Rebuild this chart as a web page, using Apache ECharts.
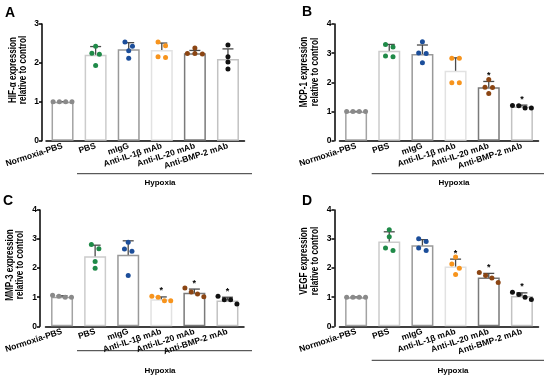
<!DOCTYPE html>
<html><head><meta charset="utf-8">
<script src="https://cdn.jsdelivr.net/npm/echarts@6/dist/echarts.min.js"></script>
<style>html,body{margin:0;padding:0;background:#fff}#c{width:550px;height:377px}</style>
</head><body><div id="c"></div>
<script>
const categories = ['Normoxia-PBS','PBS','mIgG','Anti-IL-1β mAb','Anti-IL-20 mAb','Anti-BMP-2 mAb'];

// Panel A: HIF-α
const hifPoints = [[1,1,1,1],[2.43,2.25,2.22,1.93],[2.54,2.43,2.31,2.12],[2.54,2.44,2.16,2.14],[2.38,2.24,2.23,2.24],[2.46,2.16,2.02,1.84]];
const hifMean = [1.0,2.21,2.35,2.33,2.25,2.1];
const hifSD = [0,0.21,0.17,0.18,0.07,0.26];
const hifSig = [0,0,0,0,0,0];

// Panel B: MCP-1
const mcpPoints = [[1,1,1,1],[3.30,3.21,2.90,2.88],[3.39,3.01,2.99,2.67],[2.83,2.83,1.99,1.99],[2.10,1.83,1.82,1.62],[1.20,1.21,1.12,1.12]];
const mcpMean = [1.0,3.08,2.97,2.4,1.83,1.17];
const mcpSD = [0,0.22,0.31,0.44,0.2,0.05];
const mcpSig = [0,0,0,0,1,1];

// Panel C: MMP-3
const mmpPoints = [[1.0,1.0,1.03,1.07],[2.81,2.67,2.23,2.0],[2.89,2.66,2.58,1.75],[1.03,1.0,0.88,0.88],[1.32,1.18,1.11,1.02],[1.03,0.91,0.91,0.77]];
const mmpMean = [1.02,2.41,2.46,0.93,1.15,0.89];
const mmpSD = [0.03,0.38,0.48,0.08,0.13,0.11];
const mmpSig = [0,0,0,1,1,1];

// Panel D: VEGF
const vegfPoints = [[1,1,1,1],[3.32,3.08,2.69,2.61],[3.01,2.92,2.69,2.61],[2.38,2.14,2.0,1.78],[1.85,1.75,1.66,1.51],[1.17,1.09,1.0,0.92]];
const vegfMean = [1.0,2.92,2.79,2.06,1.68,1.04];
const vegfSD = [0,0.33,0.19,0.25,0.14,0.11];
const vegfSig = [0,0,0,1,1,1];

const yMaxes = [3,4,4,4];
const yTitles = ['HIF-α expression','MCP-1 expression','MMP-3 expression','VEGF expression'];
const panelLetters = ['A','B','C','D'];

const borderColors = ['#a3a3a3','#cccccc','#999999','#e2e2e2','#7a7a7a','#c2c2c2'];
const dotColors = ['#8a8a8a','#1f8a48','#1c4e9a','#f7941d','#8b4513','#111111'];
const FONT = '"Liberation Sans", Arial, sans-serif';

const panels = [
  {pts:hifPoints, mean:hifMean, sd:hifSD, sig:hifSig},
  {pts:mcpPoints, mean:mcpMean, sd:mcpSD, sig:mcpSig},
  {pts:mmpPoints, mean:mmpMean, sd:mmpSD, sig:mmpSig},
  {pts:vegfPoints, mean:vegfMean, sd:vegfSD, sig:vegfSig}
];
const layout = [
  {left:46, top:24, width:198.5, height:116.7, off:4, tx:18, ty:70, lx:5, ly:6, hy:173.7, hx1:77, hx2:252, hty:183, htx:160},
  {left:339.5, top:24, width:199, height:116.7, off:5, tx:309.5, ty:72, lx:302, ly:5, hy:173.7, hx1:371.7, hx2:544, hty:183, htx:454},
  {left:45.5, top:210, width:198.5, height:116.3, off:5.5, tx:15, ty:265, lx:3, ly:194, hy:350.7, hx1:77, hx2:252, hty:370.7, htx:160},
  {left:339.5, top:210, width:199, height:116.3, off:5, tx:309.5, ty:261, lx:302, ly:194, hy:360.3, hx1:371.7, hx2:544, hty:370.3, htx:453}
];

const grids=[], xAxes=[], yAxes=[], series=[], graphics=[];
panels.forEach((p,i)=>{
  const L = layout[i];
  grids.push({left:L.left, top:L.top, width:L.width, height:L.height});
  xAxes.push({type:'category', gridIndex:i, data:categories,
    axisLine:{lineStyle:{color:'#000', width:1.5}},
    axisTick:{alignWithLabel:true, length:4, lineStyle:{color:'#000', width:1.5}},
    axisLabel:{rotate:18, fontSize:8.5, fontWeight:'bold', color:'#000', fontFamily:FONT, margin:5, interval:0}
  });
  yAxes.push({type:'value', gridIndex:i, min:0, max:yMaxes[i], interval:1, offset:L.off,
    axisLine:{show:true, lineStyle:{color:'#000', width:1.5}},
    axisTick:{show:true, length:3, lineStyle:{color:'#000', width:1.5}},
    splitLine:{show:false},
    axisLabel:{fontSize:8.5, fontWeight:'bold', color:'#000', fontFamily:FONT, margin:3}
  });
  series.push({type:'bar', xAxisIndex:i, yAxisIndex:i, barWidth:22, silent:true,
    data:p.mean.map((v,k)=>({value:v, itemStyle:{color:'#fff', borderColor:borderColors[k], borderWidth:1.5}}))
  });
  series.push({type:'custom', xAxisIndex:i, yAxisIndex:i, silent:true,
    data:p.mean.map((v,k)=>[k, v-p.sd[k], v+p.sd[k], p.sig[k]]),
    renderItem:(params, api)=>{
      const lo = api.coord([api.value(0), api.value(1)]);
      const hi = api.coord([api.value(0), api.value(2)]);
      const x = lo[0], cw = 5.5;
      const st = {stroke:'#4a4a4a', lineWidth:1.3};
      const ch = [
        {type:'line', shape:{x1:x, y1:lo[1], x2:x, y2:hi[1]}, style:st},
        {type:'line', shape:{x1:x-cw, y1:lo[1], x2:x+cw, y2:lo[1]}, style:st},
        {type:'line', shape:{x1:x-cw, y1:hi[1], x2:x+cw, y2:hi[1]}, style:st}
      ];
      if (api.value(3)) ch.push({type:'text', style:{x:x, y:hi[1]-6, text:'*', fill:'#000', font:'bold 9px '+FONT, align:'center', verticalAlign:'middle'}});
      return {type:'group', children:ch};
    }
  });
  series.push({type:'custom', xAxisIndex:i, yAxisIndex:i, silent:true, z:5,
    data:p.pts.map((arr,k)=>[k].concat(arr)),
    renderItem:(params, api)=>{
      const k = api.value(0);
      const pix = [];
      for (let j=1;j<=4;j++){ const c = api.coord([k, api.value(j)]); pix.push(c); }
      pix.sort((a,b)=>a[1]-b[1]);
      const clusters=[]; let cur=[pix[0]];
      for (let j=1;j<pix.length;j++){
        if (pix[j][1]-cur[cur.length-1][1] < 4.5) cur.push(pix[j]); else {clusters.push(cur); cur=[pix[j]];}
      }
      clusters.push(cur);
      const ch=[];
      clusters.forEach(cl=>{
        const n=cl.length, sp = n>=4?6.3:7.5;
        cl.forEach((c,m)=>{
          ch.push({type:'circle', shape:{cx:c[0]+(m-(n-1)/2)*sp, cy:c[1], r:2.5}, style:{fill:dotColors[k]}});
        });
      });
      return {type:'group', children:ch};
    }
  });
  graphics.push({type:'text', x:L.tx, y:L.ty, rotation:Math.PI/2, scaleX:0.74,
    style:{text:yTitles[i]+'\nrelative to control', font:'bold 11px '+FONT, fill:'#000', align:'center', verticalAlign:'middle', lineHeight:10.5}});
  graphics.push({type:'text', x:L.lx, y:L.ly, style:{text:panelLetters[i], font:'bold 14px '+FONT, fill:'#000'}});
  graphics.push({type:'line', shape:{x1:L.hx1, y1:L.hy, x2:L.hx2, y2:L.hy}, style:{stroke:'#333', lineWidth:1}});
  graphics.push({type:'text', x:L.htx, y:L.hty, style:{text:'Hypoxia', font:'bold 8px '+FONT, fill:'#000', align:'center', verticalAlign:'middle'}});
});

const chart = echarts.init(document.getElementById('c'), null, {renderer:'canvas'});
chart.setOption({animation:false, backgroundColor:'#fff', grid:grids, xAxis:xAxes, yAxis:yAxes, series:series, graphic:graphics});
</script></body></html>
